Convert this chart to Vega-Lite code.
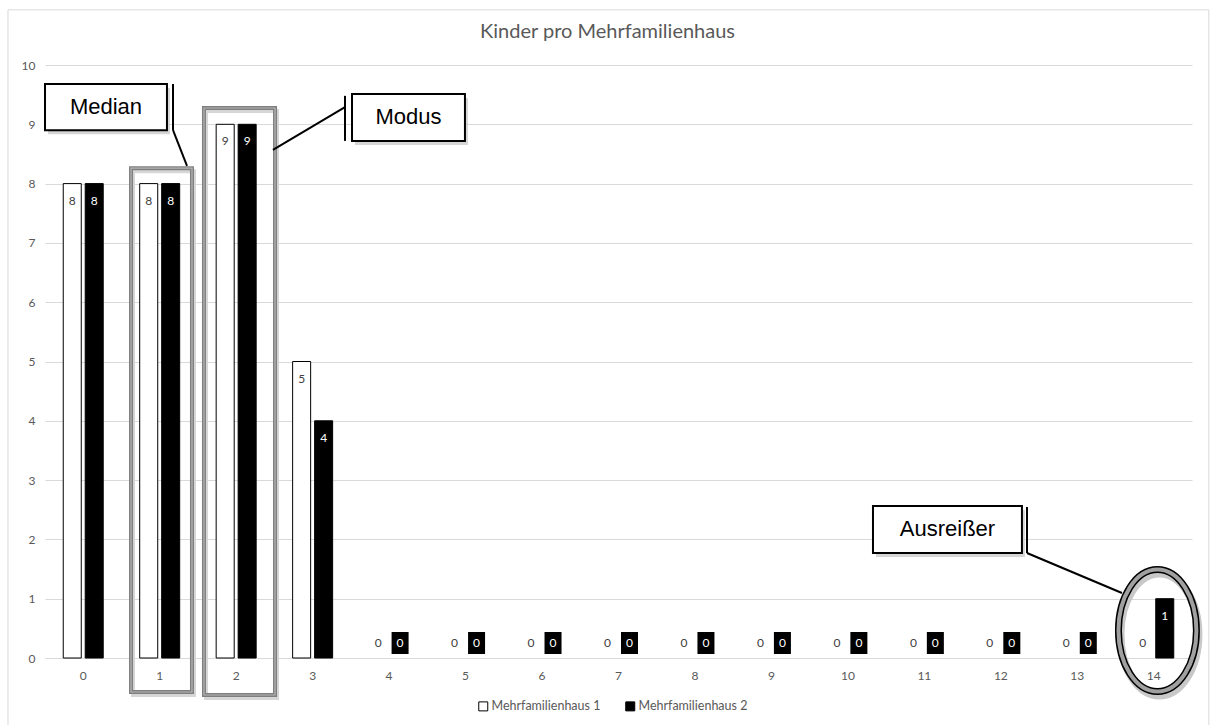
{
  "$schema": "https://vega.github.io/schema/vega-lite/v6.json",
  "width": 1147,
  "height": 593,
  "autosize": {"type": "none"},
  "padding": {"left": 45, "top": 65, "right": 18, "bottom": 67},
  "background": "white",
  "title": {"text": "Kinder pro Mehrfamilienhaus", "font": "Lato", "fontSize": 20, "fontWeight": "normal", "color": "#595959", "anchor": "middle", "dx": -11, "offset": -49, "baseline": "alphabetic"},
  "datasets": {
    "counts": [
      {"k": 0, "series": "Mehrfamilienhaus 1", "value": 8}, {"k": 0, "series": "Mehrfamilienhaus 2", "value": 8},
      {"k": 1, "series": "Mehrfamilienhaus 1", "value": 8}, {"k": 1, "series": "Mehrfamilienhaus 2", "value": 8},
      {"k": 2, "series": "Mehrfamilienhaus 1", "value": 9}, {"k": 2, "series": "Mehrfamilienhaus 2", "value": 9},
      {"k": 3, "series": "Mehrfamilienhaus 1", "value": 5}, {"k": 3, "series": "Mehrfamilienhaus 2", "value": 4},
      {"k": 4, "series": "Mehrfamilienhaus 1", "value": 0}, {"k": 4, "series": "Mehrfamilienhaus 2", "value": 0},
      {"k": 5, "series": "Mehrfamilienhaus 1", "value": 0}, {"k": 5, "series": "Mehrfamilienhaus 2", "value": 0},
      {"k": 6, "series": "Mehrfamilienhaus 1", "value": 0}, {"k": 6, "series": "Mehrfamilienhaus 2", "value": 0},
      {"k": 7, "series": "Mehrfamilienhaus 1", "value": 0}, {"k": 7, "series": "Mehrfamilienhaus 2", "value": 0},
      {"k": 8, "series": "Mehrfamilienhaus 1", "value": 0}, {"k": 8, "series": "Mehrfamilienhaus 2", "value": 0},
      {"k": 9, "series": "Mehrfamilienhaus 1", "value": 0}, {"k": 9, "series": "Mehrfamilienhaus 2", "value": 0},
      {"k": 10, "series": "Mehrfamilienhaus 1", "value": 0}, {"k": 10, "series": "Mehrfamilienhaus 2", "value": 0},
      {"k": 11, "series": "Mehrfamilienhaus 1", "value": 0}, {"k": 11, "series": "Mehrfamilienhaus 2", "value": 0},
      {"k": 12, "series": "Mehrfamilienhaus 1", "value": 0}, {"k": 12, "series": "Mehrfamilienhaus 2", "value": 0},
      {"k": 13, "series": "Mehrfamilienhaus 1", "value": 0}, {"k": 13, "series": "Mehrfamilienhaus 2", "value": 0},
      {"k": 14, "series": "Mehrfamilienhaus 1", "value": 0}, {"k": 14, "series": "Mehrfamilienhaus 2", "value": 1}
    ],
    "border": [{"x1": -0.984, "x2": 14.72, "y1": 10.93, "y2": -1.3}],
    "frames": [
      {"name": "Median", "x1": 0.625, "x2": 1.422, "y1": 8.26, "y2": -0.573},
      {"name": "Modus", "x1": 1.579, "x2": 2.508, "y1": 9.275, "y2": -0.624}
    ],
    "boxes": [
      {"label": "Median", "x1": -0.5, "x2": 1.095, "y1": 9.68, "y2": 8.9, "cx": 0.2975, "cy": 9.29},
      {"label": "Modus", "x1": 3.515, "x2": 4.992, "y1": 9.51, "y2": 8.72, "cx": 4.2535, "cy": 9.115},
      {"label": "Ausreißer", "x1": 10.328, "x2": 12.276, "y1": 2.563, "y2": 1.771, "cx": 11.302, "cy": 2.167}
    ],
    "lines": [
      {"x1": 1.174, "y1": 9.68, "x2": 1.174, "y2": 8.9},
      {"x1": 1.174, "y1": 8.9, "x2": 1.357, "y2": 8.3},
      {"x1": 3.423, "y1": 9.48, "x2": 3.423, "y2": 8.72},
      {"x1": 3.423, "y1": 9.29, "x2": 2.481, "y2": 8.57},
      {"x1": 12.342, "y1": 2.546, "x2": 12.342, "y2": 1.771},
      {"x1": 12.342, "y1": 1.771, "x2": 13.584, "y2": 1.096}
    ],
    "outlier": [{"x": 14.048, "y": 0.464}]
  },
  "layer": [
    {
      "data": {"name": "counts"},
      "encoding": {
        "x": {"field": "k", "type": "ordinal", "title": null,
              "scale": {"paddingInner": 0.477, "paddingOuter": 0.2385},
              "axis": {"labelAngle": 0, "ticks": false, "domain": true, "domainColor": "#d9d9d9", "labelPadding": 12, "labelColor": "#595959", "labelFont": "Lato", "labelFontSize": 12}},
        "xOffset": {"field": "series", "type": "nominal", "scale": {"paddingInner": 0.18, "paddingOuter": 0}},
        "y": {"field": "value", "type": "quantitative", "title": null,
              "scale": {"domain": [0, 10], "nice": false},
              "axis": {"values": [0, 1, 2, 3, 4, 5, 6, 7, 8, 9, 10], "grid": true, "gridColor": "#d9d9d9", "domain": false, "ticks": false, "labelPadding": 10, "labelColor": "#595959", "labelFont": "Lato", "labelFontSize": 12}}
      },
      "layer": [
        {
          "transform": [{"filter": "datum.value > 0"}],
          "mark": {"type": "bar", "stroke": "black", "strokeWidth": 1},
          "encoding": {
            "fill": {"field": "series", "type": "nominal",
                     "scale": {"domain": ["Mehrfamilienhaus 1", "Mehrfamilienhaus 2"], "range": ["#ffffff", "#000000"]},
                     "legend": {"orient": "none", "legendX": 432, "legendY": 635, "direction": "horizontal", "title": null,
                                "symbolType": "square", "symbolSize": 81, "symbolStrokeColor": "black", "symbolStrokeWidth": 1,
                                "labelFont": "Lato", "labelFontSize": 12.5, "labelColor": "#595959", "columnPadding": 22, "labelOffset": 2}}
          }
        },
        {
          "transform": [{"filter": "datum.value > 0"}],
          "mark": {"type": "text", "dy": 17, "baseline": "middle", "font": "Lato", "fontSize": 12},
          "encoding": {
            "text": {"field": "value", "type": "quantitative"},
            "color": {"condition": {"test": "datum.series === 'Mehrfamilienhaus 2'", "value": "white"}, "value": "#404040"}
          }
        },
        {
          "transform": [{"filter": "datum.value == 0 && datum.series === 'Mehrfamilienhaus 2'"}],
          "mark": {"type": "point", "shape": "M-0.773,-1H0.773V1H-0.773Z", "size": 484, "filled": true, "color": "black", "opacity": 1, "yOffset": -15}
        },
        {
          "transform": [{"filter": "datum.value == 0"}],
          "mark": {"type": "text", "dy": -15, "baseline": "middle", "font": "Lato", "fontSize": 12},
          "encoding": {
            "text": {"field": "value", "type": "quantitative"},
            "color": {"condition": {"test": "datum.series === 'Mehrfamilienhaus 2'", "value": "white"}, "value": "#404040"}
          }
        }
      ]
    },
    {
      "layer": [
        {
          "data": {"name": "border"},
          "mark": {"type": "rect", "fill": null, "stroke": "#d9d9d9", "strokeWidth": 1},
          "encoding": {
            "x": {"field": "x1", "type": "quantitative", "scale": {"domain": [-0.5, 14.5], "nice": false, "zero": false}, "axis": null},
            "x2": {"field": "x2"},
            "y": {"field": "y1", "type": "quantitative", "scale": {"domain": [0, 10], "nice": false}, "axis": null},
            "y2": {"field": "y2"}
          }
        },
        {
          "data": {"name": "frames"},
          "mark": {"type": "rect", "fill": null, "stroke": "#d6d6d6", "strokeWidth": 4, "xOffset": 2, "x2Offset": 2, "yOffset": 3, "y2Offset": 3},
          "encoding": {
            "x": {"field": "x1", "type": "quantitative", "scale": {"domain": [-0.5, 14.5], "nice": false, "zero": false}, "axis": null},
            "x2": {"field": "x2"},
            "y": {"field": "y1", "type": "quantitative", "scale": {"domain": [0, 10], "nice": false}, "axis": null},
            "y2": {"field": "y2"}
          }
        },
        {
          "data": {"name": "frames"},
          "mark": {"type": "rect", "fill": null, "stroke": "#7f7f7f", "strokeWidth": 4},
          "encoding": {
            "x": {"field": "x1", "type": "quantitative", "scale": {"domain": [-0.5, 14.5], "nice": false, "zero": false}, "axis": null},
            "x2": {"field": "x2"},
            "y": {"field": "y1", "type": "quantitative", "scale": {"domain": [0, 10], "nice": false}, "axis": null},
            "y2": {"field": "y2"}
          }
        },
        {
          "data": {"name": "frames"},
          "mark": {"type": "rect", "fill": null, "stroke": "#b5b5b5", "strokeWidth": 1.2},
          "encoding": {
            "x": {"field": "x1", "type": "quantitative", "scale": {"domain": [-0.5, 14.5], "nice": false, "zero": false}, "axis": null},
            "x2": {"field": "x2"},
            "y": {"field": "y1", "type": "quantitative", "scale": {"domain": [0, 10], "nice": false}, "axis": null},
            "y2": {"field": "y2"}
          }
        },
        {
          "data": {"name": "lines"},
          "mark": {"type": "rule", "stroke": "black", "strokeWidth": 2},
          "encoding": {
            "x": {"field": "x1", "type": "quantitative", "scale": {"domain": [-0.5, 14.5], "nice": false, "zero": false}, "axis": null},
            "x2": {"field": "x2"},
            "y": {"field": "y1", "type": "quantitative", "scale": {"domain": [0, 10], "nice": false}, "axis": null},
            "y2": {"field": "y2"}
          }
        },
        {
          "data": {"name": "boxes"},
          "mark": {"type": "rect", "fill": "#c4c4c4", "opacity": 0.7, "xOffset": 3, "x2Offset": 3, "yOffset": 4, "y2Offset": 4},
          "encoding": {
            "x": {"field": "x1", "type": "quantitative", "scale": {"domain": [-0.5, 14.5], "nice": false, "zero": false}, "axis": null},
            "x2": {"field": "x2"},
            "y": {"field": "y1", "type": "quantitative", "scale": {"domain": [0, 10], "nice": false}, "axis": null},
            "y2": {"field": "y2"}
          }
        },
        {
          "data": {"name": "boxes"},
          "mark": {"type": "rect", "fill": "white", "stroke": "black", "strokeWidth": 2},
          "encoding": {
            "x": {"field": "x1", "type": "quantitative", "scale": {"domain": [-0.5, 14.5], "nice": false, "zero": false}, "axis": null},
            "x2": {"field": "x2"},
            "y": {"field": "y1", "type": "quantitative", "scale": {"domain": [0, 10], "nice": false}, "axis": null},
            "y2": {"field": "y2"}
          }
        },
        {
          "data": {"name": "boxes"},
          "mark": {"type": "text", "font": "Liberation Sans", "fontSize": 22, "color": "black", "baseline": "middle", "align": "center"},
          "encoding": {
            "x": {"field": "cx", "type": "quantitative", "scale": {"domain": [-0.5, 14.5], "nice": false, "zero": false}, "axis": null},
            "y": {"field": "cy", "type": "quantitative", "scale": {"domain": [0, 10], "nice": false}, "axis": null},
            "text": {"field": "label", "type": "nominal"}
          }
        },
        {
          "data": {"name": "outlier"},
          "mark": {"type": "point", "shape": "M-0.639,0A0.639,1,0,1,0,0.639,0A0.639,1,0,1,0,-0.639,0Z", "size": 14884, "filled": false, "stroke": "#c8c8c8", "strokeWidth": 8, "opacity": 1, "xOffset": 2, "yOffset": 4},
          "encoding": {
            "x": {"field": "x", "type": "quantitative", "scale": {"domain": [-0.5, 14.5], "nice": false, "zero": false}, "axis": null},
            "y": {"field": "y", "type": "quantitative", "scale": {"domain": [0, 10], "nice": false}, "axis": null}
          }
        },
        {
          "data": {"name": "outlier"},
          "mark": {"type": "point", "shape": "M-0.639,0A0.639,1,0,1,0,0.639,0A0.639,1,0,1,0,-0.639,0Z", "size": 14884, "filled": false, "stroke": "black", "strokeWidth": 7, "opacity": 1},
          "encoding": {
            "x": {"field": "x", "type": "quantitative", "scale": {"domain": [-0.5, 14.5], "nice": false, "zero": false}, "axis": null},
            "y": {"field": "y", "type": "quantitative", "scale": {"domain": [0, 10], "nice": false}, "axis": null}
          }
        },
        {
          "data": {"name": "outlier"},
          "mark": {"type": "point", "shape": "M-0.639,0A0.639,1,0,1,0,0.639,0A0.639,1,0,1,0,-0.639,0Z", "size": 14884, "filled": false, "stroke": "#a0a0a0", "strokeWidth": 4, "opacity": 1},
          "encoding": {
            "x": {"field": "x", "type": "quantitative", "scale": {"domain": [-0.5, 14.5], "nice": false, "zero": false}, "axis": null},
            "y": {"field": "y", "type": "quantitative", "scale": {"domain": [0, 10], "nice": false}, "axis": null}
          }
        }
      ]
    }
  ],
  "resolve": {"scale": {"x": "independent"}, "axis": {"x": "independent", "y": "independent"}},
  "config": {"view": {"stroke": null}}
}
